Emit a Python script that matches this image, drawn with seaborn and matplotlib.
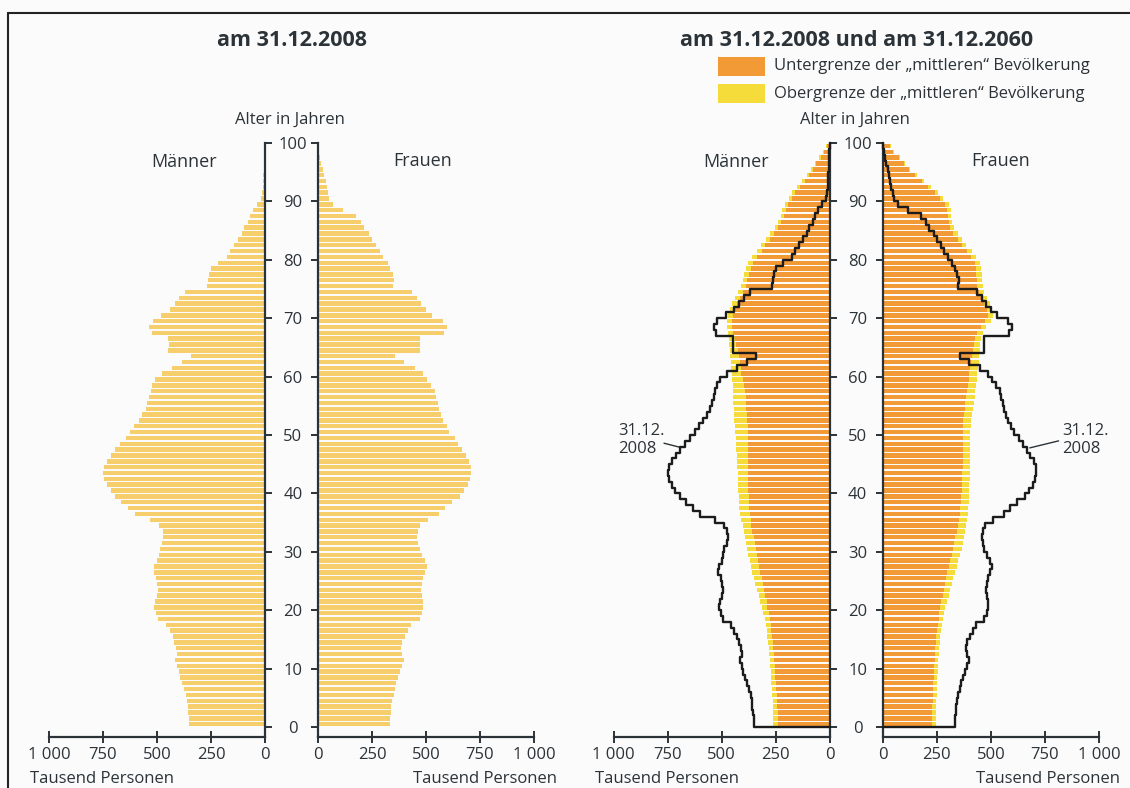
import matplotlib
matplotlib.use("Agg")
import matplotlib.pyplot as plt
import seaborn as sns
from matplotlib.patches import Rectangle
from matplotlib.lines import Line2D

# Altersjahre 0..99, Werte in Tausend Personen
ages = list(range(100))

male_2008 = [350, 352, 355, 358, 362, 367, 375, 383, 392, 400,
             408, 416, 408, 410, 422, 428, 442, 458, 495, 505,
             512, 508, 500, 495, 500, 505, 516, 512, 500, 492,
             488, 478, 472, 474, 490, 533, 600, 633, 665, 693,
             715, 732, 744, 750, 745, 730, 712, 694, 670, 645,
             625, 605, 585, 568, 553, 546, 538, 530, 522, 508,
             476, 430, 385, 342, 448, 446, 450, 525, 538, 520,
             480, 442, 418, 398, 370, 268, 264, 258, 250, 218,
             175, 160, 142, 125, 108, 95, 80, 68, 55, 38,
             18, 14, 11, 9, 7, 5, 4, 3, 2, 1]

female_2008 = [332, 335, 338, 340, 343, 350, 355, 363, 372, 380,
               390, 398, 388, 385, 390, 405, 415, 432, 470, 480,
               488, 488, 483, 477, 480, 488, 497, 505, 495, 480,
               470, 463, 460, 463, 472, 510, 560, 590, 622, 658,
               677, 693, 705, 710, 710, 698, 683, 667, 650, 632,
               608, 595, 578, 568, 560, 555, 548, 540, 525, 505,
               485, 450, 398, 355, 470, 470, 470, 585, 598, 580,
               530, 500, 478, 458, 435, 348, 352, 345, 335, 322,
               302, 285, 268, 252, 235, 215, 200, 175, 115, 70,
               52, 45, 40, 35, 28, 22, 15, 10, 6, 3]

male_2060_low = [239, 240, 242, 243, 244, 246, 247, 249, 252, 253,
                 255, 257, 259, 262, 265, 267, 270, 274, 278, 283,
                 289, 293, 298, 303, 309, 315, 321, 327, 332, 338,
                 343, 348, 352, 358, 363, 367, 370, 373, 375, 376,
                 377, 377, 377, 377, 378, 378, 378, 378, 378, 378,
                 378, 379, 381, 383, 386, 388, 390, 394, 398, 404,
                 409, 412, 416, 420, 425, 432, 440, 448, 451, 451,
                 447, 440, 430, 415, 400, 390, 383, 375, 366, 355,
                 338, 316, 298, 278, 258, 239, 224, 213, 205, 194,
                 177, 160, 140, 116, 96, 77, 62, 43, 28, 14]

male_2060_high = [262, 263, 264, 264, 265, 267, 269, 270, 272, 274,
                  276, 278, 281, 283, 285, 289, 293, 297, 301, 307,
                  313, 321, 329, 337, 344, 351, 358, 364, 370, 377,
                  383, 388, 393, 399, 404, 409, 414, 418, 420, 422,
                  424, 425, 426, 427, 428, 429, 430, 432, 434, 436,
                  438, 440, 442, 444, 445, 446, 447, 448, 450, 452,
                  454, 456, 458, 460, 462, 465, 468, 472, 474, 474,
                  470, 463, 453, 438, 423, 412, 404, 396, 388, 377,
                  360, 337, 318, 297, 276, 256, 240, 228, 220, 208,
                  190, 173, 152, 127, 106, 86, 70, 50, 33, 18]

female_2060_low = [227, 227, 228, 229, 230, 230, 231, 233, 235, 236,
                   238, 240, 242, 243, 245, 247, 250, 254, 258, 261,
                   265, 271, 278, 283, 289, 294, 299, 305, 312, 318,
                   324, 330, 335, 341, 346, 351, 355, 358, 361, 363,
                   366, 367, 367, 368, 369, 370, 370, 370, 370, 370,
                   369, 370, 373, 377, 378, 381, 386, 389, 394, 397,
                   400, 404, 409, 412, 417, 420, 427, 436, 452, 474,
                   485, 480, 469, 458, 443, 436, 435, 432, 432, 425,
                   410, 389, 366, 346, 327, 312, 304, 300, 299, 290,
                   265, 242, 211, 181, 150, 119, 96, 73, 49, 34]

female_2060_high = [245, 246, 247, 247, 248, 249, 250, 251, 253, 254,
                    256, 257, 259, 262, 264, 266, 269, 273, 278, 283,
                    289, 296, 304, 311, 319, 327, 335, 343, 350, 358,
                    366, 372, 377, 382, 386, 390, 393, 395, 397, 399,
                    401, 401, 402, 402, 403, 403, 404, 404, 404, 404,
                    405, 407, 410, 414, 417, 420, 425, 428, 432, 434,
                    437, 440, 443, 445, 448, 450, 455, 462, 478, 500,
                    511, 506, 495, 484, 469, 462, 460, 457, 456, 449,
                    433, 411, 387, 366, 346, 330, 321, 316, 314, 304,
                    278, 254, 222, 191, 159, 127, 103, 79, 54, 38]

x_ticks = [0, 250, 500, 750, 1000]
x_tick_labels = ["0", "250", "500", "750", "1 000"]
age_ticks = list(range(0, 101, 10))

sns.set_theme(style="ticks")
plt.rcParams["font.family"] = ["Open Sans", "DejaVu Sans"]

TXT = "#2b3338"
BAR08 = "#f6cf6c"
ORANGE = "#f29a36"
YELLOW = "#f5dc3a"
BG = "#fbfbfb"

W, H = 1130, 788
fig = plt.figure(figsize=(W / 100, H / 100), dpi=100, facecolor=BG)

y_bottom = (H - 737) / H
y_height = (737 - 143) / H
bar_pos = [a + 0.5 for a in ages]


def setup(x0, x1):
    ax = fig.add_axes([x0 / W, y_bottom, (x1 - x0) / W, y_height])
    ax.set_facecolor("none")
    return ax


def style(ax, male):
    ax.set(xlabel="", ylabel="")
    ax.set_ylim(-1.7, 100)
    ax.set_xticks(x_ticks, x_tick_labels)
    if male:
        ax.set_xlim(1000, 0)
        ax.yaxis.tick_right()
        ax.set_yticks(age_ticks, [str(t) for t in age_ticks])
        for lbl in ax.get_yticklabels():
            lbl.set_horizontalalignment("center")
        ax.tick_params(axis="y", direction="out", length=5, width=1.4,
                       pad=15, labelsize=12, colors=TXT)
        sides_off, sides_on = ["top", "left"], ["right", "bottom"]
    else:
        ax.set_xlim(0, 1000)
        ax.yaxis.tick_left()
        ax.set_yticks(age_ticks, [])
        ax.tick_params(axis="y", direction="out", length=5, width=1.4, colors=TXT)
        sides_off, sides_on = ["top", "right"], ["left", "bottom"]
    for s in sides_off:
        ax.spines[s].set_visible(False)
    for s in sides_on:
        ax.spines[s].set_color(TXT)
        ax.spines[s].set_linewidth(1.6)
    ax.tick_params(axis="x", direction="inout", length=9, width=1.4,
                   pad=3, labelsize=12, colors=TXT)


def bars(ax, vals, color):
    sns.barplot(x=vals, y=bar_pos, orient="y", native_scale=True, width=0.76,
                color=color, saturation=1, errorbar=None, linewidth=0, ax=ax)


def step_line(ax, vals):
    xs, ys = [0], [0]
    for a, v in zip(ages, vals):
        xs += [v, v]
        ys += [a, a + 1]
    xs.append(0)
    ys.append(100)
    ax.plot(xs, ys, color="#1c1c1c", lw=1.7, zorder=5, clip_on=False)


# linke Pyramide: 31.12.2008
ax1 = setup(49, 265)
bars(ax1, male_2008, BAR08)
style(ax1, True)
ax2 = setup(318, 534)
bars(ax2, female_2008, BAR08)
style(ax2, False)

# rechte Pyramide: 2060 mit Linie 2008
ax3 = setup(613.6, 829.9)
bars(ax3, male_2060_high, YELLOW)
bars(ax3, male_2060_low, ORANGE)
step_line(ax3, male_2008)
style(ax3, True)
ax4 = setup(882.8, 1099)
bars(ax4, female_2060_high, YELLOW)
bars(ax4, female_2060_low, ORANGE)
step_line(ax4, female_2008)
style(ax4, False)

ax3.text(980, 49.1, "31.12.\n2008", ha="left", va="center", fontsize=12, color=TXT)
ax3.plot([767, 693], [48.6, 47.9], color=TXT, lw=1)
ax4.text(828, 49.1, "31.12.\n2008", ha="left", va="center", fontsize=12, color=TXT)
ax4.plot([813, 680], [49.0, 47.8], color=TXT, lw=1)


def ftext(x, y, s, **kw):
    kw.setdefault("color", TXT)
    fig.text(x / W, (H - y) / H, s, **kw)


ftext(292, 40, "am 31.12.2008", ha="center", va="center", fontsize=15.5, fontweight="bold")
ftext(857, 40, "am 31.12.2008 und am 31.12.2060", ha="center", va="center",
      fontsize=15.5, fontweight="bold")

ftext(290, 120, "Alter in Jahren", ha="center", va="center", fontsize=12)
ftext(855, 120, "Alter in Jahren", ha="center", va="center", fontsize=12)
ftext(184, 162, "Männer", ha="center", va="center", fontsize=13)
ftext(423, 161, "Frauen", ha="center", va="center", fontsize=13)
ftext(736, 162, "Männer", ha="center", va="center", fontsize=13)
ftext(1001, 161, "Frauen", ha="center", va="center", fontsize=13)

ftext(30, 779, "Tausend Personen", ha="left", va="center", fontsize=12)
ftext(557, 779, "Tausend Personen", ha="right", va="center", fontsize=12)
ftext(595, 779, "Tausend Personen", ha="left", va="center", fontsize=12)
ftext(1120, 779, "Tausend Personen", ha="right", va="center", fontsize=12)

# Legende
fig.add_artist(Rectangle((718 / W, (H - 76) / H), 47 / W, 19 / H,
                         transform=fig.transFigure, color=ORANGE, lw=0))
fig.add_artist(Rectangle((718 / W, (H - 103) / H), 47 / W, 19 / H,
                         transform=fig.transFigure, color=YELLOW, lw=0))
ftext(774, 66.5, "Untergrenze der „mittleren“ Bevölkerung", ha="left", va="center", fontsize=12)
ftext(774, 93.5, "Obergrenze der „mittleren“ Bevölkerung", ha="left", va="center", fontsize=12)

# Rahmen oben und links
fig.add_artist(Line2D([8 / W, 1], [(H - 13) / H] * 2, transform=fig.transFigure,
                      color="#222222", lw=1.5))
fig.add_artist(Line2D([8 / W] * 2, [0, (H - 13) / H], transform=fig.transFigure,
                      color="#222222", lw=1.5))

fig.savefig("out.png", dpi=100, facecolor=BG)
